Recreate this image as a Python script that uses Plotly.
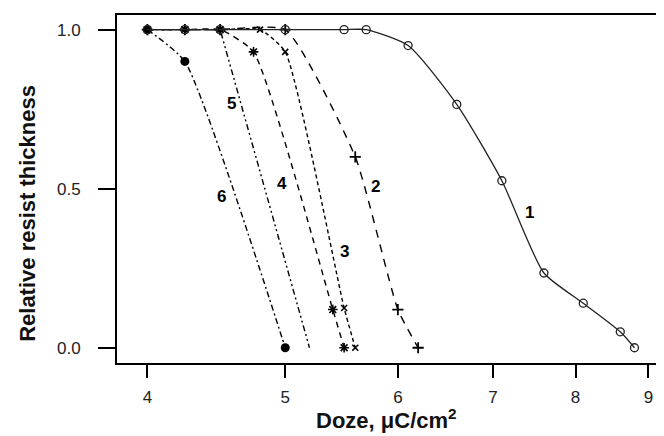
import numpy as np
import plotly.graph_objects as go

# ---- data ----
x1 = [4.0, 4.25, 4.5, 5.0, 5.5, 5.7, 6.1, 6.6, 7.1, 7.6, 8.1, 8.6, 8.8]
y1 = [1.0, 1.0, 1.0, 1.0, 1.0, 1.0, 0.95, 0.765, 0.525, 0.235, 0.14, 0.05, 0.0]

x2 = [4.0, 4.25, 4.5, 5.0, 5.6, 6.0, 6.2]
y2 = [1.0, 1.0, 1.0, 1.0, 0.6, 0.12, 0.0]

x3 = [4.0, 4.25, 4.5, 4.8, 5.0, 5.5, 5.6]
y3 = [1.0, 1.0, 1.0, 1.0, 0.93, 0.125, 0.0]

x4 = [4.0, 4.25, 4.5, 4.75, 5.4, 5.5]
y4 = [1.0, 1.0, 1.0, 0.93, 0.12, 0.0]

x5 = [4.0, 4.25, 4.5, 5.2]
y5 = [1.0, 1.0, 1.0, 0.0]

x6 = [4.0, 4.25, 5.0]
y6 = [1.0, 0.9, 0.0]

curve_labels = ["1", "2", "3", "4", "5", "6"]
label_x = [7.42, 5.79, 5.50, 4.97, 4.58, 4.51]
label_y = [0.425, 0.508, 0.302, 0.517, 0.768, 0.477]

x_ticks = [4, 5, 6, 7, 8, 9]
y_ticks = [0.0, 0.5, 1.0]
y_ticktext = ["0.0", "0.5", "1.0"]

# ---- figure ----
fig = go.Figure()

series = [
    (x6, y6, dict(color="black", width=1.4, dash="6px,3px,2px,3px", shape="spline", smoothing=0.5),
     dict(symbol="circle", size=9, color="black")),
    (x5, y5, dict(color="black", width=1.4, dash="6px,3px,2px,3px,2px,3px"), None),
    (x4, y4, dict(color="black", width=1.4, dash="6px,5px", shape="spline", smoothing=0.5),
     dict(symbol="asterisk-open", size=8, color="black", line=dict(color="black", width=1.6))),
    (x3, y3, dict(color="black", width=1.4, dash="4px,3px", shape="spline", smoothing=0.5),
     dict(symbol="x-thin-open", size=6, color="black", line=dict(color="black", width=1.6))),
    (x2, y2, dict(color="black", width=1.4, dash="8px,7px", shape="spline", smoothing=0.5),
     dict(symbol="cross-thin-open", size=8, color="black", line=dict(color="black", width=1.8))),
    (x1, y1, dict(color="#222", width=1.3, shape="spline", smoothing=0.6),
     dict(symbol="circle-open", size=8, color="#222", line=dict(color="#222", width=1.3))),
]

for xs, ys, ln, mk in series:
    if mk is None:
        fig.add_trace(go.Scatter(x=xs, y=ys, mode="lines", line=ln,
                                 showlegend=False, hoverinfo="skip"))
    else:
        fig.add_trace(go.Scatter(x=xs, y=ys, mode="lines+markers", line=ln,
                                 marker=mk, showlegend=False, hoverinfo="skip"))

for t, lx, ly in zip(curve_labels, label_x, label_y):
    fig.add_annotation(x=np.log10(lx), y=ly, xref="x", yref="y", text=f"<b>{t}</b>",
                       showarrow=False, font=dict(family="Arial", size=17, color="black"),
                       xanchor="center", yanchor="middle")

# the page body adds an 8px offset, so the figure is 8px smaller and shifted
OFF = 8
W, H = 664 - OFF, 436 - OFF
L, R, T, B = 109, 8, 5, 73
pw, ph = W - L - R, H - T - B

# y-axis title
fig.add_annotation(x=(20 - L) / pw, y=(H - B - 205) / ph, xref="paper", yref="paper",
                   text="<b>Relative resist thickness</b>", textangle=-90, showarrow=False,
                   font=dict(family="Arial", size=22, color="#111"),
                   xanchor="center", yanchor="middle")
# x-axis title
fig.add_annotation(x=0.5, y=(H - B - 427) / ph, xref="paper", yref="paper",
                   text="<b>Doze, \u03bcC/cm<sup>2</sup></b>", showarrow=False,
                   font=dict(family="Arial", size=22, color="#111"),
                   xanchor="center", yanchor="bottom")

fig.update_xaxes(type="log", range=[np.log10(3.808), np.log10(9.112)],
                 tickvals=x_ticks, ticktext=[str(v) for v in x_ticks],
                 ticks="outside", ticklen=13, tickwidth=2, tickcolor="black",
                 showline=True, linecolor="black", linewidth=2, mirror=True,
                 showgrid=False, zeroline=False,
                 tickfont=dict(family="Arial", size=17, color="#222"),
                 ticklabelstandoff=5)
fig.update_yaxes(range=[-0.048, 1.046], tickvals=y_ticks, ticktext=y_ticktext,
                 ticks="outside", ticklen=17, tickwidth=2, tickcolor="black",
                 showline=True, linecolor="black", linewidth=2, mirror=True,
                 showgrid=False, zeroline=False,
                 tickfont=dict(family="Arial", size=17, color="#222"),
                 ticklabelstandoff=14)

fig.update_layout(width=W, height=H, margin=dict(l=L, r=R, t=T, b=B),
                  paper_bgcolor="white", plot_bgcolor="white")

fig.write_html("out.html")
